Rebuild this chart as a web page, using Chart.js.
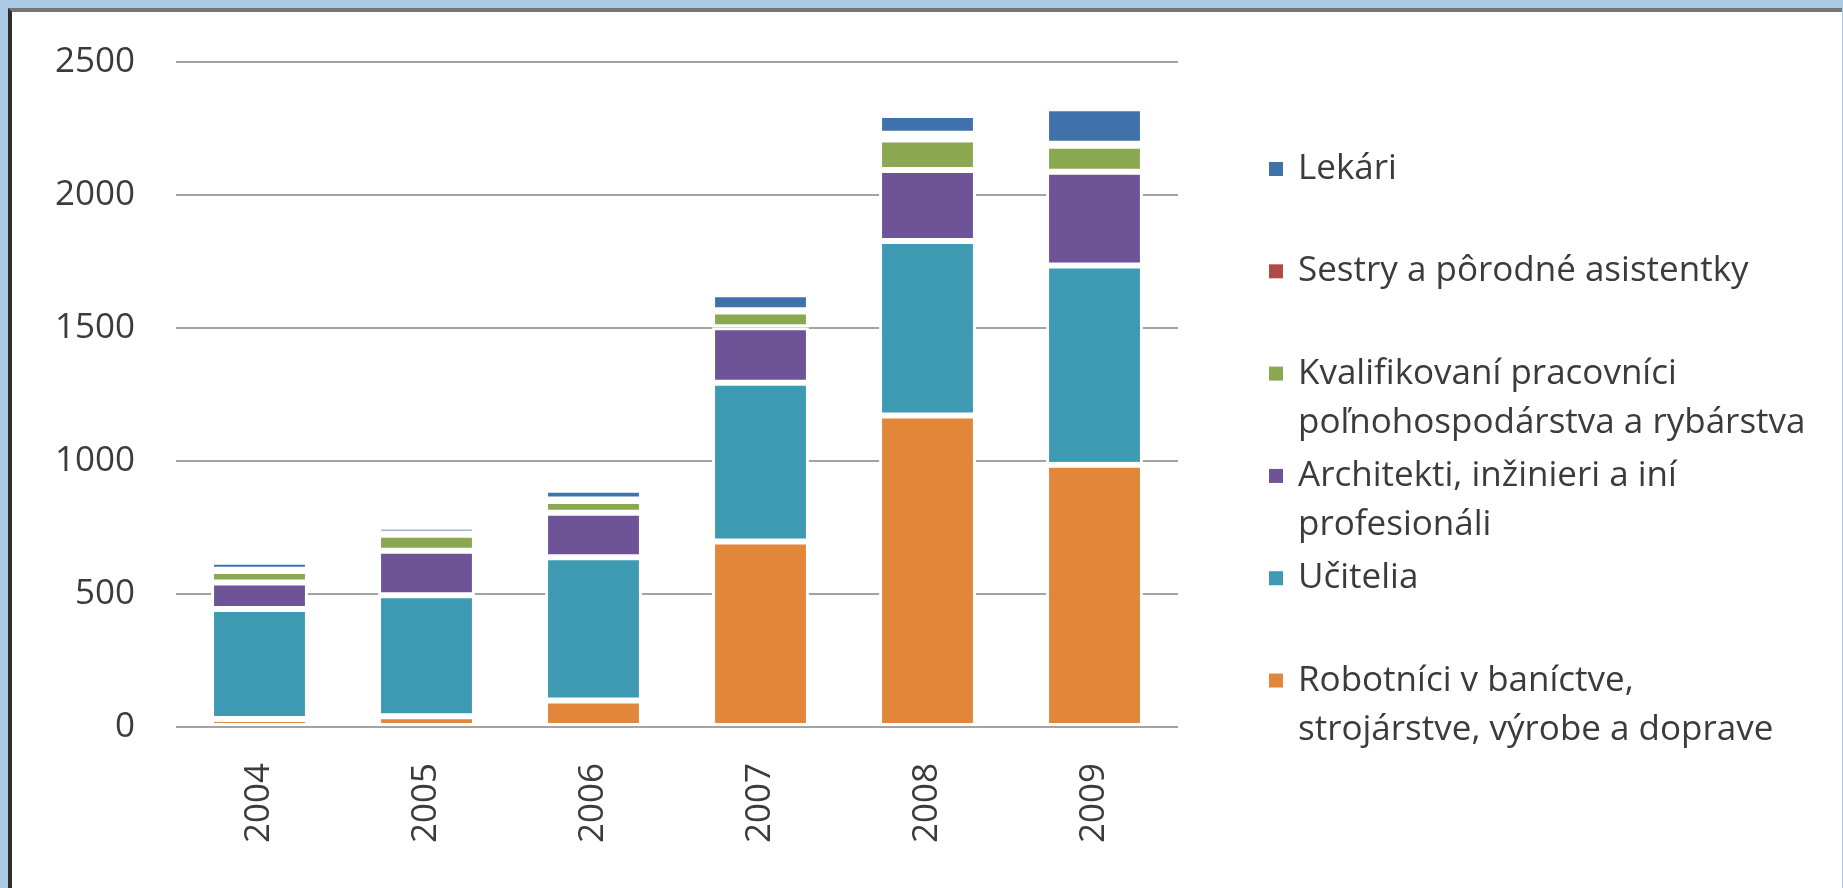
<!DOCTYPE html>
<html lang="sk">
<head>
<meta charset="UTF-8">
<title>Zamestnanci podľa profesie 2004-2009</title>
<script src="https://cdn.jsdelivr.net/npm/chart.js"></script>
<style>
  body { margin: 0; background: #accbe7; overflow: hidden; }
  .panel {
    position: absolute; left: 8px; top: 8px; width: 1830px; height: 900px;
    background: #fff; border-left: 4px solid #2e2e2e; border-top: 4px solid #777;
  }
  canvas { position: absolute; left: 0; top: 0; }
</style>
</head>
<body>
<div class="panel"></div>
<canvas id="chart" width="1843" height="888"></canvas>
<script>
// values (stack order bottom -> top)
const years = ['2004', '2005', '2006', '2007', '2008', '2009'];
const robotnici = [30, 40, 100, 697, 1171, 986];
const ucitelia = [414, 455, 538, 597, 656, 749];
const architekti = [99, 168, 167, 209, 267, 352];
const kvalifikovani = [43, 60, 45, 59, 115, 98];
const sestry = [5, 4, 5, 5, 21, 8];
const lekari = [30, 26, 37, 60, 71, 133];

const textColor = '#3b3b3b';
const font = { family: 'Open Sans', size: 35 };

// legend on the right, Lekári on top like in the original
const sideLegend = {
  id: 'sideLegend',
  afterDraw(chart) {
    const { ctx, chartArea } = chart;
    const step = (chartArea.bottom - chartArea.top) / 6.5;
    const x = chartArea.right + 120;
    ctx.save();
    ctx.font = '35px "Open Sans"';
    ctx.textBaseline = 'middle';
    const sets = chart.data.datasets.slice().reverse();
    sets.forEach((ds, i) => {
      const y = chartArea.top + 107 + i * step;
      ctx.fillStyle = ds.backgroundColor;
      ctx.fillRect(x - 29, y - 7, 14, 14);
      ctx.fillStyle = textColor;
      ds.label.split('\n').forEach((line, j) => ctx.fillText(line, x, y + j * 49));
    });
    ctx.restore();
  }
};

const ctx = document.getElementById('chart').getContext('2d');
new Chart(ctx, {
  type: 'bar',
  data: {
    labels: years,
    datasets: [
      { label: 'Robotníci v baníctve,\nstrojárstve, výrobe a doprave', data: robotnici, backgroundColor: '#e2863a' },
      { label: 'Učitelia', data: ucitelia, backgroundColor: '#3e99b3' },
      { label: 'Architekti, inžinieri a iní\nprofesionáli', data: architekti, backgroundColor: '#6f5397' },
      { label: 'Kvalifikovaní pracovníci\npoľnohospodárstva a rybárstva', data: kvalifikovani, backgroundColor: '#8aa84f' },
      { label: 'Sestry a pôrodné asistentky', data: sestry, backgroundColor: '#b04a48' },
      { label: 'Lekári', data: lekari, backgroundColor: '#3f72ab' }
    ]
  },
  options: {
    responsive: false,
    animation: false,
    layout: { padding: { top: 55, right: 665, bottom: 0, left: 0 } },
    datasets: {
      bar: {
        barPercentage: 0.58,
        categoryPercentage: 1,
        borderWidth: 3,
        borderColor: '#ffffff',
        borderSkipped: false
      }
    },
    plugins: {
      legend: { display: false },
      tooltip: { enabled: false }
    },
    scales: {
      x: {
        stacked: true,
        grid: { display: false, drawTicks: false },
        border: { display: false },
        ticks: { font: font, color: textColor, minRotation: 90, maxRotation: 90, padding: 36 },
        afterFit(s) { s.height = 161; }
      },
      y: {
        stacked: true,
        min: 0,
        max: 2500,
        ticks: {
          stepSize: 500, padding: 41, font: font, color: textColor,
          callback: v => String(v)
        },
        grid: { color: '#a3a3a3', lineWidth: 2, drawTicks: false },
        border: { display: false },
        afterFit(s) { s.width = 176; }
      }
    }
  },
  plugins: [sideLegend]
});
</script>
</body>
</html>
